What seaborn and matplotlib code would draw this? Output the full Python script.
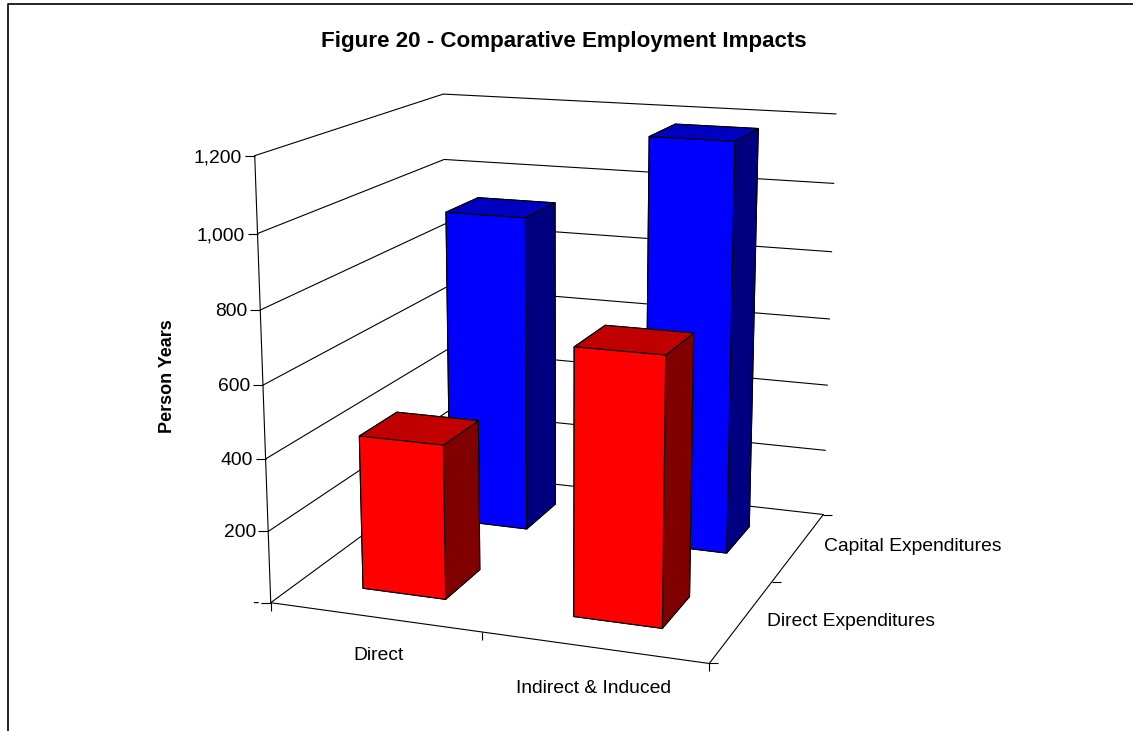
import matplotlib
matplotlib.use("Agg")
import matplotlib.pyplot as plt
import numpy as np
import seaborn as sns

# values
categories = ["Direct", "Indirect & Induced"]
series_names = ["Direct Expenditures", "Capital Expenditures"]
direct_exp = [430, 728]
capital_exp = [925, 1175]
z_ticks = [0, 200, 400, 600, 800, 1000, 1200]
z_labels = ["-", "200", "400", "600", "800", "1,000", "1,200"]

# bottom, top, front, back, left, right
red_faces = ["#800000", "#C00000", "#FF0000", "#800000", "#800000", "#800000"]
blue_faces = ["#000080", "#0000C0", "#0000FF", "#000080", "#000080", "#000080"]

sns.set_theme(style="white")
plt.rcParams["font.family"] = ["Liberation Sans", "DejaVu Sans"]

W, H = 1133, 731
fig = plt.figure(figsize=(W / 100, H / 100), dpi=100, facecolor="white")

S, cx, cy = 731, 553, 360
ax = fig.add_axes([(cx - S / 2) / W, 1 - (cy + S / 2) / H, S / W, S / H],
                  projection="3d", computed_zorder=False)
ax.set_proj_type("persp", focal_length=0.55)
ax.view_init(elev=14.5, azim=-70)
ax.set_xlim(0, 2)
ax.set_ylim(0, 2)
ax.set_zlim(0, 1200)
ax.set_box_aspect((1, 1, 0.99), zoom=1.01)
ax.set_axis_off()
ax.patch.set_alpha(0)

line = dict(color="black", lw=0.8, zorder=1)
for z in z_ticks:
    ax.plot([0, 0, 2], [0, 2, 2], [z, z, z], **line)
    ax.plot([0], [0], [z], marker=0, ms=7.2, mew=0.8, color="black", zorder=1)
ax.plot([0, 0], [0, 0], [0, 1200], **line)
ax.plot([0, 2, 2], [0, 0, 2], [0, 0, 0], **line)

for x in [0, 1, 2]:
    ax.plot([x], [0], [0], marker=3, ms=6, mew=0.8, color="black", zorder=1)
for y in [0, 1, 2]:
    ax.plot([2], [y], [0], marker=1, ms=6.5, mew=0.8, color="black", zorder=1)

width = 0.4
for j, values in enumerate([direct_exp, capital_exp]):
    faces = blue_faces if j == 1 else red_faces
    for i, v in enumerate(values):
        ax.bar3d(i + 0.305, j + 0.3, 0, width, width, v, color=faces, shade=False,
                 edgecolor="black", linewidth=0.8, zorder=3 - j)

for z, lab in zip(z_ticks, z_labels):
    ax.text(-0.06, 0, z - 8, lab, ha="right", va="center", fontsize=13.9, color="black")
for i, lab, off, dz in zip(range(2), categories, [0.68, 0.62], [-10, -14]):
    ax.text(i + off, -0.35, dz, lab, ha="center", va="center", fontsize=13.9, color="black")
for j, lab, off, dz in zip(range(2), series_names, [0.46, 0.5], [18, 10]):
    ax.text(2.12, j + off, dz, lab, ha="left", va="center", fontsize=13.9, color="black")

fig.text(563.5 / W, 1 - 42 / H, "Figure 20 - Comparative Employment Impacts",
         ha="center", va="center", fontsize=16.1, fontweight="bold", color="black")
fig.text(167 / W, 1 - 376 / H, "Person Years", rotation=90, ha="center", va="center",
         fontsize=13, fontweight="bold", color="black")

# chart frame: only the top and left edges show in the crop
fig.add_artist(plt.Line2D([8 / W, 8 / W, 1], [0, 1 - 4 / H, 1 - 4 / H], color="black", lw=1.2))

fig.savefig("out.png", dpi=100)
